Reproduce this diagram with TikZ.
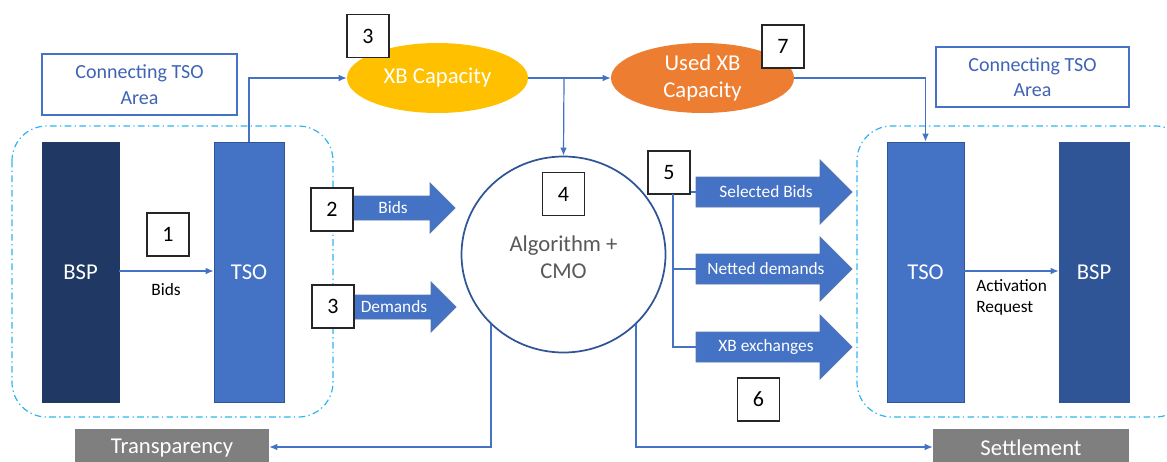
\documentclass[tikz,border=0pt]{standalone}
\usepackage{fontspec}
\setmainfont{Carlito}
\usetikzlibrary{arrows.meta,shapes.geometric}
\definecolor{cblue}{HTML}{4472C4}
\definecolor{dblue}{HTML}{2F5597}
\definecolor{navy}{HTML}{203864}
\definecolor{dashblue}{HTML}{2DB5F0}
\definecolor{xbyel}{HTML}{FFC000}
\definecolor{xborg}{HTML}{ED7D31}
\definecolor{gbox}{HTML}{7F7F7F}
\definecolor{algtxt}{HTML}{595959}
\definecolor{areatxt}{HTML}{3F64B4}
\def\pxu{0.75pt}
\tikzset{
  bar/.style={draw=dblue, line width=0.6pt, text=white, inner sep=0pt,
    font=\fontsize{17}{20}\selectfont},
  areabox/.style={draw=cblue, line width=1pt, fill=white, text=areatxt, align=center,
    inner sep=0pt, font=\fontsize{15}{19}\selectfont},
  numbox/.style={draw=black!85, line width=1.1pt, fill=white, inner sep=0pt,
    minimum width=42*\pxu, minimum height=43*\pxu, font=\fontsize{16.5}{18}\selectfont},
  zone/.style={draw=dashblue, line width=0.9pt, dash pattern=on 5pt off 2.5pt on 1pt off 2.5pt,
    rounded corners=26pt},
  conn/.style={draw=cblue, line width=0.9pt},
  carr/.style={conn, -{Latex[length=6pt,width=5pt]}},
  fat/.style={fill=cblue, draw=dblue!80, line width=0.6pt},
  fattxt/.style={text=white, inner sep=0pt, font=\fontsize{13}{15}\selectfont},
  smalltxt/.style={text=black, inner sep=0pt, font=\fontsize{13}{16}\selectfont, align=left},
  graybox/.style={fill=gbox, text=white, inner sep=0pt, font=\fontsize{17}{20}\selectfont},
  blob/.style={ellipse, inner sep=0pt, text=white, align=center, font=\fontsize{17}{20}\selectfont},
}
\begin{document}
\begin{tikzpicture}[x=0.75pt,y=-0.75pt]
\useasboundingbox (0,0) rectangle (1167,461);

% dashed zones
\draw[zone] (12,126) rectangle (333,417);
\draw[zone] (857,126) rectangle (1190,417);

% area boxes
\node[areabox, minimum width=195*\pxu, minimum height=61*\pxu] (areaL) at (139.5,84.5) {Connecting TSO\\Area};
\node[areabox, minimum width=193*\pxu, minimum height=60*\pxu] (areaR) at (1032.5,77) {Connecting TSO\\Area};

% bars
\node[bar, fill=navy, draw=navy, minimum width=77*\pxu, minimum height=260*\pxu] (bspL) at (80.5,272) {BSP};
\node[bar, fill=cblue, minimum width=70*\pxu, minimum height=260*\pxu] (tsoL) at (249,272) {TSO};
\node[bar, fill=cblue, minimum width=77*\pxu, minimum height=260*\pxu] (tsoR) at (925.5,272) {TSO};
\node[bar, fill=dblue, minimum width=70*\pxu, minimum height=260*\pxu] (bspR) at (1094,272) {BSP};

% ellipses
\node[blob, fill=xbyel, minimum width=181*\pxu, minimum height=70*\pxu] (xbcap) at (437.5,78) {XB Capacity};
\node[blob, fill=xborg, minimum width=183*\pxu, minimum height=70*\pxu] (usedxb) at (702.5,78) {Used XB\\Capacity};

% algorithm circle
\node[ellipse, draw=dblue, line width=1.3pt, fill=white, minimum width=204*\pxu, minimum height=196*\pxu] (algo) at (563.5,254.5) {};
\node[text=algtxt, align=center, font=\fontsize{17}{20.5}\selectfont, inner sep=0pt] (algotxt) at (563.5,257) {Algorithm +\\CMO};

% gray boxes
\node[graybox, minimum width=194*\pxu, minimum height=38*\pxu] (transp) at (172,448) {Transparency};
\node[graybox, minimum width=196*\pxu, minimum height=38*\pxu] (settle) at (1031,448) {Settlement};

% connectors
\draw[carr] (bspL.east |- 0,271) -- (tsoL.west |- 0,271);
\node[smalltxt] (bidslbl) at (166,290) {Bids};
\draw[carr] (tsoL.north) -- (249,78) -- (xbcap.west);
\draw[carr] (xbcap.east) -- (usedxb.west);
\coordinate (split) at (564,78);
\draw[carr] (split) -- (algo.north);
\draw[carr] (usedxb.east) -- (tsoR.north |- usedxb.east) -- (tsoR.north);
\draw[carr] (tsoR.east |- 0,271) -- (bspR.west |- 0,271);
\node[smalltxt, anchor=west] (actlbl) at (976,297.5) {Activation\\Request};

\coordinate (tstart) at (491,324);
\coordinate (sstart) at (636,324);
\draw[carr] (tstart) -- (491,447) -- (transp.east |- 0,447);
\draw[carr] (sstart) -- (636,447) -- (settle.west |- 0,447);

% fat arrows
\draw[fat] (353,196) -- (430,196) -- (430,183) -- (455,208) -- (430,233) -- (430,220) -- (353,220) -- cycle;
\node[fattxt] (fbids) at (393,208) {Bids};
\draw[fat] (354,295) -- (431,295) -- (431,282) -- (456,307) -- (431,332) -- (431,319) -- (354,319) -- cycle;
\node[fattxt] (fdem) at (394,307) {Demands};

\draw[fat] (696,177) -- (820,177) -- (820,160) -- (852,192) -- (820,224) -- (820,207) -- (696,207) -- cycle;
\node[fattxt] (fsel) at (766,192) {Selected Bids};
\draw[fat] (696,254) -- (820,254) -- (820,237) -- (852,269) -- (820,301) -- (820,284) -- (696,284) -- cycle;
\node[fattxt] (fnet) at (766,269) {Netted demands};
\draw[fat] (696,332) -- (820,332) -- (820,315) -- (852,347) -- (820,379) -- (820,362) -- (696,362) -- cycle;
\node[fattxt] (fxbe) at (766,347) {XB exchanges};

% number boxes
\node[numbox] (n3a) at (368,36) {3};
\node[numbox] (n1) at (168,234.5) {1};
\node[numbox] (n2) at (332,209.5) {2};
\node[numbox] (n3b) at (333,306.5) {3};
\node[numbox] (n4) at (563.5,194) {4};
\node[numbox] (n5) at (669,172.5) {5};
\node[numbox] (n6) at (758.5,399.5) {6};
\node[numbox] (n7) at (783,46.5) {7};

% box 5 branches
\draw[conn] (n5.south east) ++(-17*\pxu,0) coordinate (b5top);
\draw[conn] (673,194) -- (673,347) -- (696,347);
\draw[conn] (673,269) -- (696,269);
\draw[conn] (n5.east |- 0,192) -- (696,192);
\end{tikzpicture}
\end{document}
